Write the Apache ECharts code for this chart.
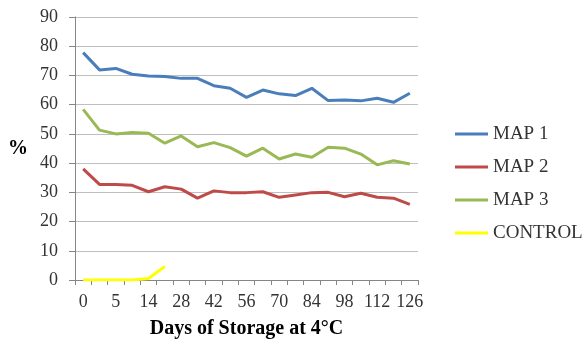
<!DOCTYPE html>
<html>
<head>
<meta charset="utf-8">
<script src="https://cdn.jsdelivr.net/npm/echarts@6/dist/echarts.min.js"></script>
<style>
  html, body { margin: 0; padding: 0; background: #fff; }
  #chart { width: 583px; height: 347px; }
</style>
</head>
<body>
<div id="chart"></div>
<script>
// Storage days (x categories)
const days = ['0', '2', '5', '7', '14', '21', '28', '35', '42', '49', '56', '63',
              '70', '77', '84', '91', '98', '105', '112', '119', '126'];

// Percent values per treatment
const map1 = [77.8, 71.9, 72.4, 70.4, 69.8, 69.6, 69.0, 69.0, 66.5, 65.6, 62.5,
              65.0, 63.7, 63.1, 65.6, 61.4, 61.6, 61.3, 62.2, 60.8, 63.9];
const map2 = [38.0, 32.7, 32.7, 32.4, 30.2, 31.9, 31.1, 28.0, 30.5, 29.9, 29.9,
              30.2, 28.3, 29.1, 29.9, 30.0, 28.5, 29.7, 28.3, 28.0, 25.9];
const map3 = [58.4, 51.3, 50.0, 50.5, 50.2, 46.8, 49.3, 45.6, 47.0, 45.3, 42.4,
              45.1, 41.4, 43.1, 42.0, 45.4, 45.1, 43.1, 39.4, 40.8, 39.7];
const control = [0, 0, 0, 0, 0.5, 4.6];

const FONT = 'Liberation Serif';
const axisGray = '#868686';

const chart = echarts.init(document.getElementById('chart'), null, { renderer: 'canvas' });

function lineSeries(name, data, color) {
  return {
    name: name,
    type: 'line',
    data: data,
    showSymbol: false,
    symbol: 'none',
    lineStyle: { color: color, width: 3 },
    itemStyle: { color: color },
    emphasis: { disabled: true },
    animation: false
  };
}

chart.setOption({
  animation: false,
  grid: { left: 75, right: 165, top: 17, bottom: 67 },
  legend: {
    orient: 'vertical',
    left: 450,
    top: 119,
    icon: 'rect',
    itemWidth: 33,
    itemHeight: 3,
    itemGap: 13,
    textStyle: { fontFamily: FONT, fontSize: 19, color: '#333', lineHeight: 20 },
    data: ['MAP 1', 'MAP 2', 'MAP 3', 'CONTROL']
  },
  xAxis: {
    type: 'category',
    data: days,
    boundaryGap: true,
    name: 'Days of Storage at 4°C',
    nameLocation: 'middle',
    nameGap: 39,
    nameTextStyle: { fontFamily: FONT, fontSize: 20, fontWeight: 'bold', color: '#000' },
    axisLine: { lineStyle: { color: axisGray, width: 1 } },
    axisTick: { show: true, interval: 0, length: 5, lineStyle: { color: axisGray } },
    axisLabel: { interval: 1, margin: 13, fontFamily: FONT, fontSize: 18, color: '#333' },
    splitLine: { show: false }
  },
  yAxis: {
    type: 'value',
    min: 0,
    max: 90,
    interval: 10,
    name: '%',
    nameLocation: 'middle',
    nameRotate: 0,
    nameGap: 47,
    nameTextStyle: { fontFamily: FONT, fontSize: 20, fontWeight: 'bold', color: '#000' },
    axisLine: { show: true, lineStyle: { color: axisGray, width: 1 } },
    axisTick: { show: true, length: 6, lineStyle: { color: axisGray } },
    axisLabel: { margin: 17, fontFamily: FONT, fontSize: 18, color: '#333' },
    splitLine: { show: true, lineStyle: { color: '#bfbfbf', width: 1 } }
  },
  series: [
    lineSeries('MAP 1', map1, '#4A7EBB'),
    lineSeries('MAP 2', map2, '#BE4B48'),
    lineSeries('MAP 3', map3, '#98B954'),
    lineSeries('CONTROL', control, '#FFFF00')
  ]
});
</script>
</body>
</html>
